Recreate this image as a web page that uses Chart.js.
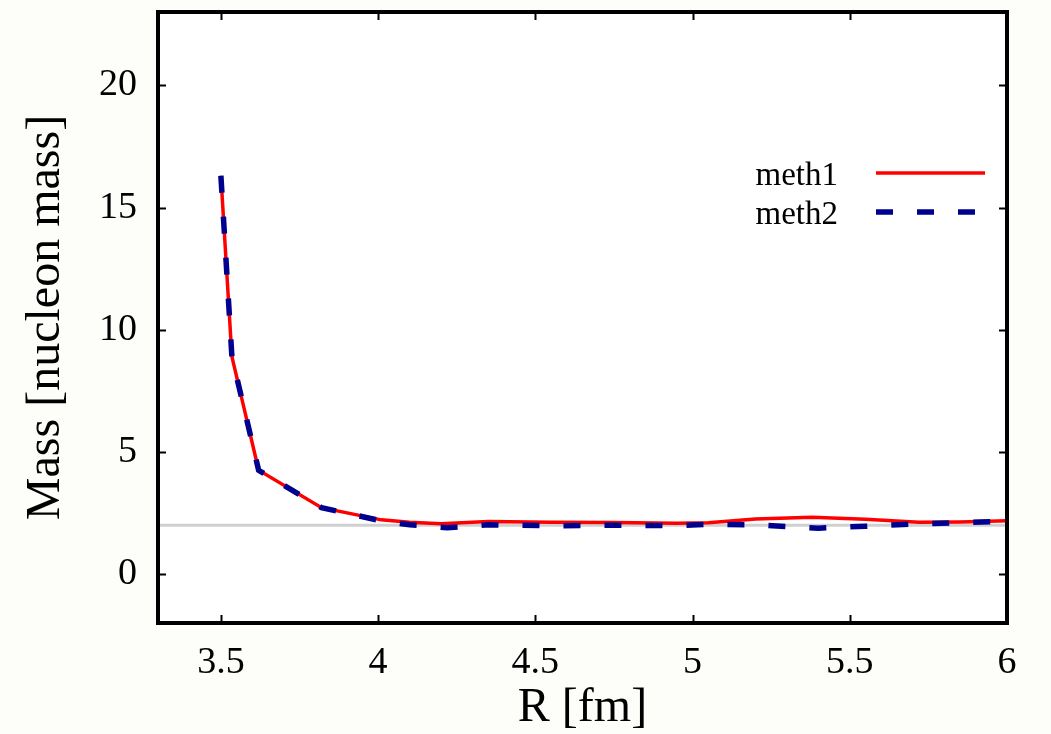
<!DOCTYPE html>
<html>
<head>
<meta charset="utf-8">
<script src="https://cdn.jsdelivr.net/npm/chart.js@4"></script>
<style>
html,body{margin:0;padding:0;background:#fdfdfa;}
#wrap{width:1051px;height:734px;position:relative;}
</style>
</head>
<body>
<div id="wrap"><canvas id="c" width="1051" height="734"></canvas></div>
<script>
const R_meth1 = [3.5, 3.535, 3.62, 3.82, 4.01, 4.1, 4.2, 4.35, 4.55, 4.75, 4.95, 5.05, 5.2, 5.38, 5.55, 5.72, 5.85, 6.0];
const M_meth1 = [16.3, 8.9, 4.25, 2.72, 2.22, 2.12, 2.06, 2.15, 2.12, 2.11, 2.08, 2.1, 2.26, 2.33, 2.25, 2.12, 2.13, 2.18];
const R_meth2 = [3.5, 3.535, 3.62, 3.82, 4.01, 4.1, 4.22, 4.35, 4.55, 4.75, 4.95, 5.05, 5.2, 5.4, 5.55, 5.72, 5.85, 6.0];
const M_meth2 = [16.3, 8.9, 4.25, 2.72, 2.18, 2.02, 1.9, 2.02, 1.98, 2.0, 1.98, 2.04, 2.02, 1.88, 1.96, 2.06, 2.1, 2.17];
const xTicks = [3.5, 4, 4.5, 5, 5.5, 6];
const yTicks = [0, 5, 10, 15, 20];
const refLevel = 2;
const legendLabels = ['meth1', 'meth2'];

const pts = (xs, ys) => xs.map((x, i) => ({x: x, y: ys[i]}));
const SERIF = '"Liberation Serif", "DejaVu Serif", serif';

const framePlugin = {
  id: 'frame',
  beforeDatasetsDraw(chart) {
    const {ctx, chartArea: a, scales: {x, y}} = chart;
    const py = y.getPixelForValue(refLevel);
    ctx.save();
    ctx.strokeStyle = '#d0d0d0';
    ctx.lineWidth = 3;
    ctx.beginPath();
    ctx.moveTo(a.left, py);
    ctx.lineTo(a.right, py);
    ctx.stroke();
    ctx.restore();
  },
  afterDraw(chart) {
    const {ctx, chartArea: a, scales: {x, y}} = chart;
    ctx.save();
    ctx.strokeStyle = '#000';
    ctx.lineWidth = 2;
    const tl = 8;
    xTicks.forEach(v => {
      const px = Math.round(x.getPixelForValue(v)) + 0.5;
      ctx.beginPath();
      ctx.moveTo(px, a.bottom); ctx.lineTo(px, a.bottom - tl);
      ctx.moveTo(px, a.top); ctx.lineTo(px, a.top + tl);
      ctx.stroke();
    });
    yTicks.forEach(v => {
      const py = Math.round(y.getPixelForValue(v)) + 0.5;
      ctx.beginPath();
      ctx.moveTo(a.left, py); ctx.lineTo(a.left + tl, py);
      ctx.moveTo(a.right, py); ctx.lineTo(a.right - tl, py);
      ctx.stroke();
    });
    ctx.lineWidth = 4;
    ctx.strokeRect(a.left, a.top, a.right - a.left, a.bottom - a.top);

    // legend
    const ds = chart.data.datasets;
    const entries = [
      {label: legendLabels[0], ds: ds[1], y: 173},
      {label: legendLabels[1], ds: ds[0], y: 212}
    ];
    ctx.font = '33px ' + SERIF;
    ctx.fillStyle = '#000';
    ctx.textAlign = 'right';
    ctx.textBaseline = 'middle';
    entries.forEach(e => {
      ctx.fillText(e.label, 838, e.y + 3);
      ctx.strokeStyle = e.ds.borderColor;
      ctx.lineWidth = e.ds.borderWidth;
      ctx.setLineDash(e.ds.borderDash || []);
      ctx.beginPath();
      ctx.moveTo(876, e.y);
      ctx.lineTo(985, e.y);
      ctx.stroke();
      ctx.setLineDash([]);
    });
    ctx.restore();
  }
};

const bgPlugin = {
  id: 'bg',
  beforeDraw(chart) {
    const {ctx, chartArea: a} = chart;
    ctx.save();
    ctx.fillStyle = '#fdfdfa';
    ctx.fillRect(0, 0, chart.width, chart.height);
    ctx.fillStyle = '#ffffff';
    ctx.fillRect(a.left, a.top, a.right - a.left, a.bottom - a.top);
    ctx.restore();
  }
};

new Chart(document.getElementById('c'), {
  type: 'scatter',
  data: {
    datasets: [
      {label: legendLabels[1], data: pts(R_meth2, M_meth2), showLine: true, borderColor: '#00008f',
       borderWidth: 5.5, borderDash: [17, 24], pointRadius: 0, tension: 0, order: 0, borderCapStyle: 'butt'},
      {label: legendLabels[0], data: pts(R_meth1, M_meth1), showLine: true, borderColor: '#ff0000',
       borderWidth: 3.5, pointRadius: 0, tension: 0, order: 1}
    ]
  },
  options: {
    responsive: false,
    animation: false,
    events: [],
    layout: {padding: {left: 0, top: 12, right: 44, bottom: 0}},
    plugins: {legend: {display: false}, tooltip: {enabled: false}},
    scales: {
      x: {
        type: 'linear', min: 3.3, max: 6,
        grid: {display: false, drawTicks: false},
        border: {display: false},
        afterBuildTicks: s => { s.ticks = xTicks.map(v => ({value: v})); },
        afterFit: s => { s.height = 111; s.paddingLeft = 0; s.paddingRight = 0; },
        ticks: {font: {family: SERIF, size: 38}, color: '#000', padding: 17, maxRotation: 0,
                callback: v => String(v)},
        title: {display: true, text: 'R [fm]', font: {family: SERIF, size: 48}, color: '#000',
                padding: {top: 0, bottom: -3}}
      },
      y: {
        type: 'linear', min: -2, max: 23,
        grid: {display: false, drawTicks: false},
        border: {display: false},
        afterBuildTicks: s => { s.ticks = yTicks.map(v => ({value: v})); },
        afterFit: s => { s.width = 158; s.paddingTop = 0; s.paddingBottom = 0; },
        ticks: {font: {family: SERIF, size: 38}, color: '#000', padding: 21,
                callback: v => String(v)},
        title: {display: true, text: 'Mass [nucleon mass]', font: {family: SERIF, size: 48}, color: '#000',
                padding: {top: 18, bottom: 0}}
      }
    }
  },
  plugins: [bgPlugin, framePlugin]
});
</script>
</body>
</html>
